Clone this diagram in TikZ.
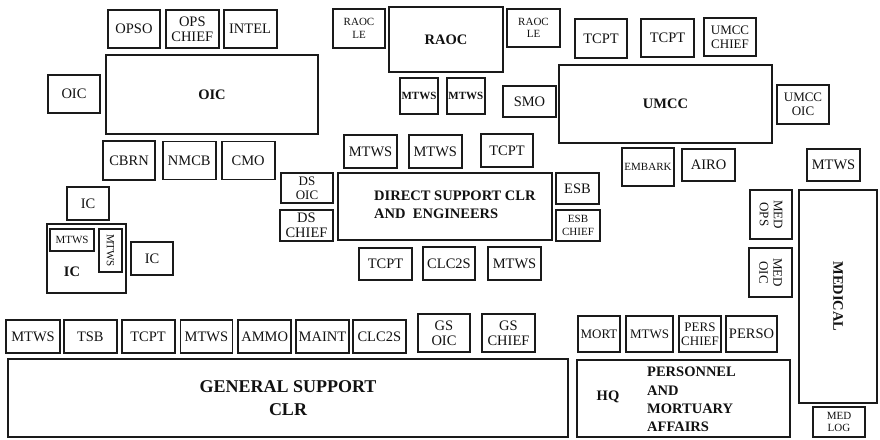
\documentclass[tikz,border=0pt]{standalone}
\usepackage{fontspec}
\setmainfont{Liberation Serif}
\usepackage{tikz}
\usetikzlibrary{positioning}
\definecolor{BoxLine}{HTML}{1A1A1A}
\definecolor{BoxText}{HTML}{111111}

\begin{document}
\begin{tikzpicture}[
			x=1pt,y=-1pt,
			node distance=3pt and 3pt,
			bx/.style={draw=BoxLine,line width=1.8pt,inner sep=0pt,align=center,text=BoxText,font=\fontsize{14.5}{15}\selectfont},
			sz/.style 2 args={minimum width=#1pt-2pt,minimum height=#2pt-2pt},
			sm/.style={font=\fontsize{11}{12.5}\selectfont},
			md/.style={font=\fontsize{13}{14}\selectfont},
			hd/.style={text=BoxText,inner sep=0pt,font=\bfseries\fontsize{14.5}{18.3}\selectfont},
			hs/.style={font=\bfseries\fontsize{11}{12}\selectfont},
			vt/.style={rotate=-90}
		]
		\useasboundingbox (0,0) rectangle (880,439);
		\node[bx,hd,sz={214}{81}] (oic) at (212,94.5) {OIC};
		\node[bx,sz={54}{40}] (oicl) at (74,94) {OIC};
		\node[bx,sz={54}{40}] (opso) at (134,29) {OPSO};
		\node[bx,sz={55}{40},right=4pt of opso] (opsc) {OPS\\CHIEF};
		\node[bx,sz={55}{40},right=3pt of opsc] (intel) {INTEL};
		\node[bx,sz={54}{41}] (cbrn) at (129,160.5) {CBRN};
		\node[bx,sz={55}{40},right=6pt of cbrn] (nmcb) {NMCB};
		\node[bx,sz={55}{40},right=4pt of nmcb] (cmo) {CMO};
		\node[bx,hd,sz={116}{67}] (raoc) at (446,39.5) {RAOC};
		\node[bx,sm,sz={54}{41}] (raocl) at (359,28.5) {RAOC\\LE};
		\node[bx,sm,sz={55}{40}] (raocr) at (533.5,28) {RAOC\\LE};
		\node[bx,hs,sz={40}{38}] (mtwsa) at (419,96) {MTWS};
		\node[bx,hs,sz={40}{38},right=7pt of mtwsa] (mtwsb) {MTWS};
		\node[bx,hd,sz={215}{80}] (umcc) at (665.5,104) {UMCC};
		\node[bx,sz={55}{33}] (smo) at (529.5,101.5) {SMO};
		\node[bx,md,sz={54}{41}] (umccoic) at (803,104.5) {UMCC\\OIC};
		\node[bx,sz={54}{41}] (tcpta) at (601,38.5) {TCPT};
		\node[bx,sz={55}{40}] (tcptb) at (667.5,38) {TCPT};
		\node[bx,md,sz={54}{40}] (umccc) at (730,37) {UMCC\\CHIEF};
		\node[bx,sm,sz={54}{40}] (embark) at (648,167) {EMBARK};
		\node[bx,sz={55}{34}] (airo) at (708.5,165) {AIRO};
		\node[bx,sz={55}{34}] (mtwsm) at (833.5,165) {MTWS};
		\node[bx,sz={216}{69}] (ds) at (445,206.5) {};
		\node[hd,align=left,anchor=west] (dstxt) at (374,205) {DIRECT SUPPORT CLR\\AND\ \ ENGINEERS};
		\node[bx,md,sz={54}{32}] (dsoic) at (307,188) {DS\\OIC};
		\node[bx,sz={55}{33}] (dschief) at (306.5,225.5) {DS\\CHIEF};
		\node[bx,sz={45}{33}] (esb) at (577.5,188.5) {ESB};
		\node[bx,sm,sz={46}{33}] (esbc) at (578,225.5) {ESB\\CHIEF};
		\node[bx,sz={55}{35}] (mtwsc) at (370.5,151.5) {MTWS};
		\node[bx,sz={55}{35},right=10pt of mtwsc] (mtwsd) {MTWS};
		\node[bx,sz={54}{35}] (tcptc) at (507,150.5) {TCPT};
		\node[bx,sz={55}{34}] (tcptd) at (385.5,264) {TCPT};
		\node[bx,sz={54}{35}] (clcb) at (449,263.5) {CLC2S};
		\node[bx,sz={55}{35}] (mtwse) at (514.5,263.5) {MTWS};
		\node[bx,sz={44}{35}] (ica) at (88,203.5) {IC};
		\node[bx,sz={81}{71}] (icb) at (86.5,258.5) {};
		\node[hd] (icbtxt) at (72,272) {IC};
		\node[bx,sm,sz={46}{24}] (icm) at (72,240) {MTWS};
		\node[bx,sm,vt,sz={45}{25}] (icv) at (110.5,250.5) {MTWS};
		\node[bx,sz={44}{35}] (icc) at (152,258.5) {IC};
		\node[bx,md,vt,sz={51}{44}] (medops) at (771,214.5) {MED\\OPS};
		\node[bx,md,vt,sz={51}{45}] (medoic) at (770.5,272.5) {MED\\OIC};
		\node[bx,hd,vt,sz={215}{80}] (med) at (838,296.5) {MEDICAL};
		\node[bx,sm,sz={54}{32}] (medlog) at (839,422) {MED\\LOG};
		\node[bx,sz={56}{35}] (gsa) at (33,336.5) {MTWS};
		\node[bx,sz={55}{35},right=2pt of gsa] (gsb) {TSB};
		\node[bx,sz={55}{35},right=3pt of gsb] (gsc) {TCPT};
		\node[bx,sz={54}{35},right=4pt of gsc] (gsd) {MTWS};
		\node[bx,sz={55}{35},right=4pt of gsd] (gse) {AMMO};
		\node[bx,sz={55}{35},right=3pt of gse] (gsf) {MAINT};
		\node[bx,sz={55}{35},right=2pt of gsf] (gsg) {CLC2S};
		\node[bx,sz={54}{40}] (gsoic) at (444,333) {GS\\OIC};
		\node[bx,sz={55}{40}] (gschief) at (508.5,333) {GS\\CHIEF};
		\node[bx,hd,font=\bfseries\fontsize{18}{23}\selectfont,sz={562}{80}] (gs) at (288,398) {GENERAL SUPPORT\\CLR};
		\node[bx,md,sz={44}{38}] (mort) at (599,334) {MORT};
		\node[bx,md,sz={49}{38}] (mtwsf) at (649.5,334) {MTWS};
		\node[bx,md,sz={44}{38}] (persc) at (700,334) {PERS\\CHIEF};
		\node[bx,sz={53}{38}] (perso) at (751.5,334) {PERSO};
		\node[bx,sz={215}{79}] (hq) at (683.5,398.5) {};
		\node[hd] (hqtxt) at (608,397) {HQ};
		\node[hd,align=left,anchor=west] (patxt) at (647,399.5) {PERSONNEL\\AND\\MORTUARY\\AFFAIRS};
	\end{tikzpicture}
\end{document}
